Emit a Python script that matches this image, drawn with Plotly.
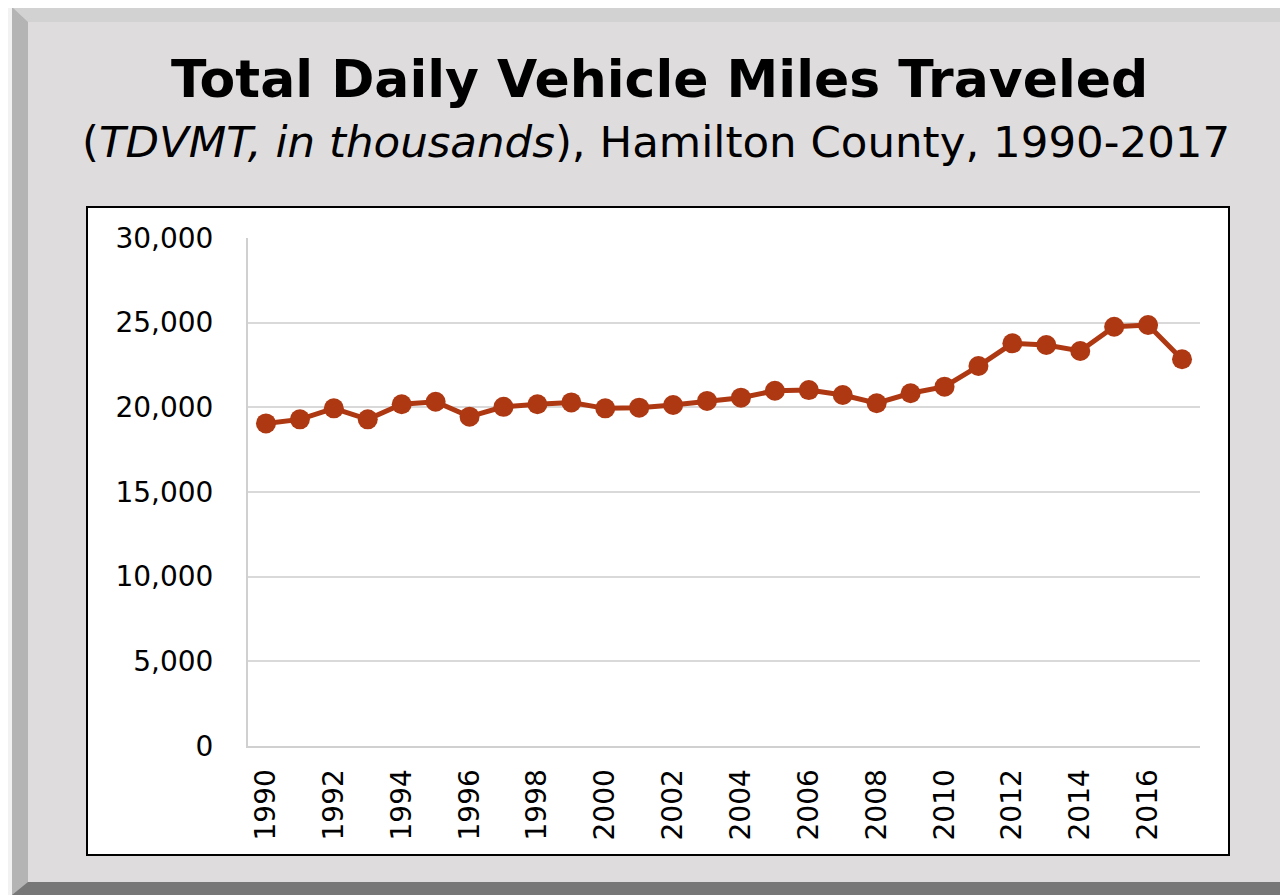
import plotly.graph_objects as go

years = list(range(1990, 2018))
tdvmt = [19050, 19290, 19940, 19290, 20180, 20330, 19450, 20030, 20180, 20290,
         19940, 19980, 20140, 20380, 20570, 20980, 21020, 20730, 20240, 20830,
         21220, 22440, 23780, 23680, 23330, 24760, 24860, 22840]
x_tick_vals = list(range(1990, 2018, 2))
y_tick_vals = [0, 5000, 10000, 15000, 20000, 25000, 30000]

# page offset (default body margin of the html page)
O = 8
W, H = 1288 - O, 895 - O
L, R, T, B = 248, 1200, 238, 746   # plot area in screen pixels


def px(x):
    return (x - L) / (R - L)


def py(y):
    return (B - y) / (B - T)


def path(pts):
    return "M " + " L ".join(f"{px(a)},{py(b)}" for a, b in pts) + " Z"


shapes = [
    dict(type="path", path=path([(12, 7), (1300, 7), (1300, 900), (12, 900)]),
         xref="paper", yref="paper", fillcolor="#b4b4b4", line_width=0, layer="below"),
    dict(type="path", path=path([(12, 7), (1300, 7), (1300, 22), (28, 22)]),
         xref="paper", yref="paper", fillcolor="#d2d2d2", line_width=0, layer="below"),
    dict(type="path", path=path([(12, 900), (12, 895), (28, 882), (1300, 882), (1300, 900)]),
         xref="paper", yref="paper", fillcolor="#777777", line_width=0, layer="below"),
    dict(type="rect", x0=px(28), x1=px(1300), y0=py(882), y1=py(22),
         xref="paper", yref="paper", fillcolor="#dedcdc", line_width=0, layer="below"),
    dict(type="rect", x0=px(87), x1=px(1229), y0=py(855), y1=py(207),
         xref="paper", yref="paper", fillcolor="white",
         line=dict(color="black", width=2), layer="below"),
]

fig = go.Figure()
fig.add_trace(go.Scatter(
    x=years, y=tdvmt, mode="lines+markers",
    line=dict(color="#ae3812", width=5),
    marker=dict(color="#ae3812", size=20),
    showlegend=False, hoverinfo="x+y",
))

font_family = "DejaVu Sans, Verdana, sans-serif"

fig.update_layout(
    width=W, height=H,
    margin=dict(l=L - O, r=1288 - R, t=T - O, b=895 - B, autoexpand=False),
    paper_bgcolor="#f2f2f2",
    plot_bgcolor="white",
    shapes=shapes,
    font=dict(family=font_family, color="black"),
    annotations=[
        dict(text="<b>Total Daily Vehicle Miles Traveled</b>", x=px(659), y=py(79),
             xref="paper", yref="paper", showarrow=False, xanchor="center", yanchor="middle",
             font=dict(size=52, family=font_family, color="black")),
        dict(text="(<i>TDVMT, in thousands</i>), Hamilton County, 1990-2017",
             x=px(656), y=py(142), xref="paper", yref="paper", showarrow=False,
             xanchor="center", yanchor="middle",
             font=dict(size=43.5, family=font_family, color="black")),
    ],
)

fig.update_xaxes(
    range=[1989.47, 2017.53], tickvals=x_tick_vals, ticktext=[str(v) for v in x_tick_vals],
    tickangle=-90, tickfont=dict(size=28, family=font_family, color="black"),
    showgrid=False, zeroline=False, showline=True, linecolor="#d0d0d0", linewidth=2,
    ticks="", ticklabelstandoff=10,
)
fig.update_yaxes(
    range=[0, 30000], tickvals=y_tick_vals, tickformat=",",
    tickfont=dict(size=28, family=font_family, color="black"),
    showgrid=True, gridcolor="#d9d9d9", gridwidth=1.5, zeroline=False,
    showline=True, linecolor="#d0d0d0", linewidth=2, ticks="", ticklabelstandoff=27,
)

fig.write_html("out.html")
